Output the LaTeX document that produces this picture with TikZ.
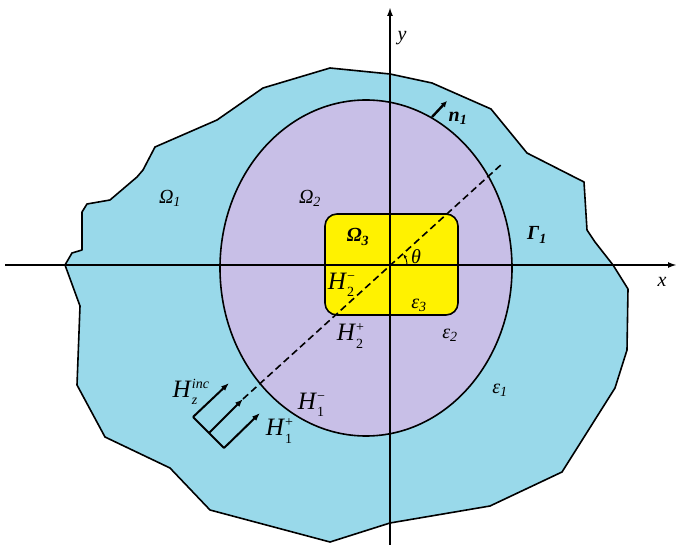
\documentclass[tikz,border=0pt]{standalone}
\usepackage{fontspec}
\setmainfont{Liberation Serif}
\usetikzlibrary{arrows.meta}
\definecolor{outerblue}{RGB}{153,217,234}
\definecolor{innerlilac}{RGB}{200,191,231}
\definecolor{coreyellow}{RGB}{255,242,0}
% field label: H with stacked sub- and superscript
\newcommand{\hfld}[2]{\textit{H}\makebox[0pt][l]{\raisebox{0.8ex}{\fontsize{14}{14}\selectfont #2}}\raisebox{-0.65ex}{\fontsize{14}{14}\selectfont #1}}
\newcommand{\reg}[2]{#1\textsubscript{#2}}

\begin{document}
\begin{tikzpicture}[x=1pt,y=1pt,
  bdry/.style={draw=black,line width=1.6pt,line join=round},
  axis/.style={line width=2.4pt,-{Latex[length=9pt,width=6pt]}},
  wave/.style={line width=2pt,-{Latex[length=8pt,width=6pt]}},
  lab/.style={font=\fontsize{20}{22}\selectfont\itshape,inner sep=0pt},
  blab/.style={lab,font=\fontsize{20}{22}\selectfont\bfseries\itshape},
  hlab/.style={font=\fontsize{25}{27}\selectfont,inner sep=0pt}]
  \useasboundingbox (0,0) rectangle (678,-545);
  % media
  \draw[bdry,fill=outerblue] (330,-68) -- (390,-74) -- (432,-83) -- (491,-109)
    -- (527,-153) -- (584,-182) -- (587,-230) -- (595,-242) -- (613,-265)
    -- (628,-289) -- (627,-350) -- (615,-388) -- (562,-472) -- (490,-506)
    -- (390,-523) -- (330,-542) -- (210,-510) -- (170,-468) -- (105,-437)
    -- (77,-385) -- (80,-306) -- (65,-265) -- (72,-253) -- (82,-250)
    -- (82,-212) -- (87,-204) -- (110,-200) -- (137,-177) -- (143,-170)
    -- (155,-147) -- (217,-120) -- (263,-88) -- cycle;
  \draw[bdry,fill=innerlilac] (366,-268) ellipse [x radius=146,y radius=168];
  \draw[bdry,fill=coreyellow,rounded corners=12pt] (325,-214) rectangle (458,-315);
  % axes
  \coordinate (O) at (390,-265);
  \coordinate (xl) at (5,-265);
  \coordinate (xr) at (677,-265);
  \coordinate (yb) at (390,-545);
  \coordinate (yt) at (390,-7);
  \draw[axis] (xl) -- (xr);
  \draw[axis] (yb) -- (yt);
  % incidence direction and angle
  \coordinate (d1) at (243,-399);
  \coordinate (d2) at (503,-163);
  \draw[line width=1.6pt,dash pattern=on 7pt off 4pt] (d1) -- (d2);
  \draw[line width=0.9pt,-{Stealth[length=4pt]}] ([shift={(0:17)}]O) arc[start angle=0,end angle=38,radius=17];
  % incident wave
  \coordinate (b1) at (193,-417);
  \coordinate (b2) at (209,-433);
  \coordinate (b3) at (224,-448);
  \coordinate (t1) at (229,-383);
  \coordinate (t3) at (260,-413);
  \draw[line width=2pt] (b1) -- (b3);
  \draw[wave] (b1) -- (t1);
  \draw[wave] (b2) -- (d1);
  \draw[wave] (b3) -- (t3);
  % normal
  \coordinate (n0) at (432,-117);
  \coordinate (n1) at (447,-101);
  \draw[line width=2.4pt,-{Latex[length=6pt,width=6pt]}] (n0) -- (n1);
  % labels
  \node[lab] (ly) at (402,-38) {y};
  \node[lab] (lx) at (662,-282) {x};
  \node[blab] (ln) at (458,-118) {\reg{n}{1}};
  \node[lab] (om1) at (170,-198) {\reg{Ω}{1}};
  \node[lab] (om2) at (310,-198) {\reg{Ω}{2}};
  \node[blab] (om3) at (358,-237) {\reg{Ω}{3}};
  \node[blab] (ga1) at (537,-235) {\reg{Γ}{1}};
  \node[lab] (th) at (416,-257) {θ};
  \node[lab] (ep3) at (419,-305) {\reg{ε}{3}};
  \node[lab] (ep2) at (450,-335) {\reg{ε}{2}};
  \node[lab] (ep1) at (500,-390) {\reg{ε}{1}};
  \node[hlab] (h2m) at (341,-285) {\hfld{2}{−}};
  \node[hlab] (h2p) at (350,-336) {\hfld{2}{+}};
  \node[hlab] (h1m) at (311,-405) {\hfld{1}{−}};
  \node[hlab] (h1p) at (279,-431) {\hfld{1}{+}};
  \node[hlab] (hinc) at (185,-392) {\hfld{\textit{z}}{\textit{inc}}};
\end{tikzpicture}
\end{document}
